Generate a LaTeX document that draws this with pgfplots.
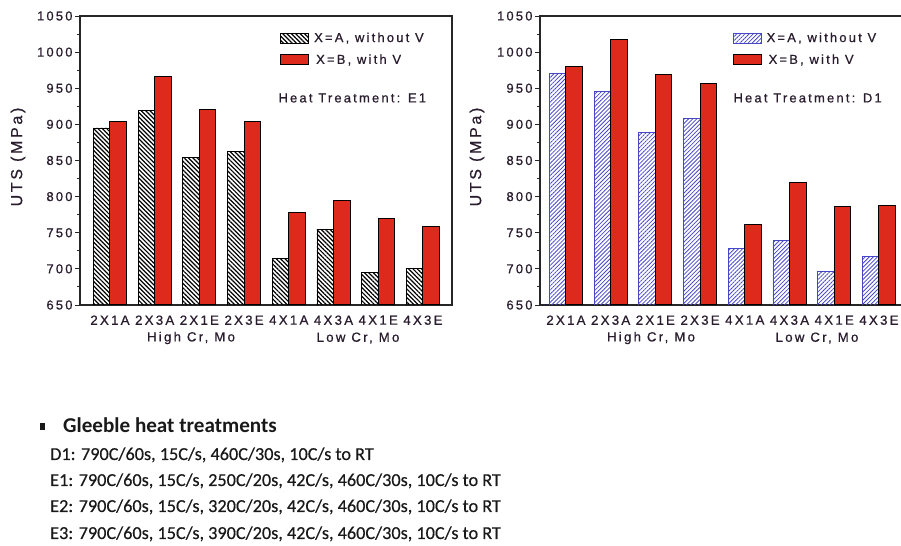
\documentclass[border=0pt]{standalone}
\usepackage{fontspec}
\setmainfont{Carlito}
\newfontfamily\chartfont[LetterSpace=17,FakeBold=0.7]{Liberation Sans}
\newfontfamily\notefont[FakeBold=0.4]{Carlito}
\usepackage{pgfplots}
\pgfplotsset{compat=1.18}
\usetikzlibrary{patterns,patterns.meta}
\definecolor{barred}{RGB}{222,42,28}
\definecolor{hatchblue}{RGB}{70,70,200}
\definecolor{txt}{RGB}{40,28,45}
\pgfplotsset{
  utsaxis/.style={
    scale only axis, height=289bp,
    ymin=650, ymax=1050, xmax=7.65,
    ytick={650,700,...,1050}, minor y tick num=1,
    xtick={0,...,7},
    xticklabels={2X1A,2X3A,2X1E,2X3E,4X1A,4X3A,4X1E,4X3E},
    ybar=0pt, bar width=0.37,
    tick align=outside, ytick pos=left, xtick pos=bottom,
    xtick style={draw=none},
    major tick length=5bp, minor tick length=3bp,
    axis line style={line width=1.1bp, black!85},
    every tick/.style={black!85, line width=0.9bp},
    /pgf/number format/assume math mode=true,
    /pgf/number format/1000 sep={},
    yticklabel style={font=\chartfont\fontsize{13}{14}\selectfont, text=txt, xshift=1bp},
    xticklabel style={font=\chartfont\fontsize{13.3}{14}\selectfont, text=txt, yshift=-2bp},
    legend style={draw=none, fill=none, anchor=north west, inner sep=0pt,
      row sep=7bp, font=\chartfont\fontsize{13}{14}\selectfont, text=txt,
      cells={anchor=west}},
  },
  bara/.style={bar shift=-0.185, line width=0.7bp,
    legend image code/.code={\draw[##1] (0bp,-5bp) rectangle (28bp,5bp);}},
  barb/.style={bar shift=0.185, draw=black, fill=barred, line width=1bp,
    legend image code/.code={\draw[##1] (0bp,-5bp) rectangle (28bp,5bp);}},
}
\begin{document}
\begin{tikzpicture}[x=1bp,y=1bp]
\useasboundingbox (0,0) rectangle (901,546);
\clip (0,0) rectangle (901,546);

% ---------- left: E1 ----------
\begin{axis}[utsaxis, at={(80bp,241bp)}, anchor=south west,
  width=372bp, xmin=-0.67,
  legend style={at={(0.5376,0.95)}}]
\addplot[bara, draw=black, pattern={Lines[angle=-45,distance=3.1pt,line width=1.2pt]}, pattern color=black]
  coordinates {(0,895) (1,919) (2,854) (3,862) (4,714) (5,755) (6,695) (7,701)};
\addlegendentry{\hspace{3bp}X=A, without V}
\addplot[barb]
  coordinates {(0,904) (1,966) (2,921) (3,904) (4,778) (5,794) (6,770) (7,759)};
\addlegendentry{\hspace{5bp}X=B, with V}
\end{axis}
\node[anchor=west, font=\chartfont\fontsize{13}{14}\selectfont, text=txt] at (275,448) {Heat Treatment: E1};
\node[rotate=90, font=\chartfont\fontsize{16}{17}\selectfont, text=txt] at (18,389) {UTS (MPa)};
\node[font=\chartfont\fontsize{13.3}{14}\selectfont, text=txt] at (191,208) {High Cr, Mo};
\node[font=\chartfont\fontsize{13.3}{14}\selectfont, text=txt] at (358,208) {Low Cr, Mo};

% ---------- right: D1 ----------
\begin{axis}[utsaxis, at={(540bp,241bp)}, anchor=south west,
  width=368bp, xmin=-0.58,
  legend style={at={(0.523,0.95)}}]
\addplot[bara, draw=hatchblue, pattern={Lines[angle=45,distance=2.9pt,line width=0.8pt]}, pattern color=hatchblue]
  coordinates {(0,970) (1,945) (2,889) (3,908) (4,728) (5,739) (6,697) (7,717)};
\addlegendentry{\hspace{3bp}X=A, without V}
\addplot[barb]
  coordinates {(0,980) (1,1018) (2,969) (3,956) (4,762) (5,819) (6,786) (7,788)};
\addlegendentry{\hspace{5bp}X=B, with V}
\end{axis}
\node[anchor=west, font=\chartfont\fontsize{13}{14}\selectfont, text=txt] at (730,448) {Heat Treatment: D1};
\node[rotate=90, font=\chartfont\fontsize{16}{17}\selectfont, text=txt] at (477,389) {UTS (MPa)};
\node[font=\chartfont\fontsize{13.3}{14}\selectfont, text=txt] at (651,208) {High Cr, Mo};
\node[font=\chartfont\fontsize{13.3}{14}\selectfont, text=txt] at (817,208) {Low Cr, Mo};

% ---------- text below ----------
\fill[black!90] (39.5,115.5) rectangle (45,122.5);
\node[anchor=base west, inner sep=0pt, font=\bfseries\fontsize{21.2}{23}\selectfont, text=black!90] at (63,113) {Gleeble heat treatments};
\begin{scope}[every node/.style={anchor=base west, inner sep=0pt, font=\notefont\fontsize{18.3}{20}\selectfont, text=black!90}]
\node at (50,86) {D1: 790C/60s, 15C/s, 460C/30s, 10C/s to RT};
\node at (50,60) {E1: 790C/60s, 15C/s, 250C/20s, 42C/s, 460C/30s, 10C/s to RT};
\node at (50,34) {E2: 790C/60s, 15C/s, 320C/20s, 42C/s, 460C/30s, 10C/s to RT};
\node at (50,7) {E3: 790C/60s, 15C/s, 390C/20s, 42C/s, 460C/30s, 10C/s to RT};
\end{scope}
\end{tikzpicture}
\end{document}
